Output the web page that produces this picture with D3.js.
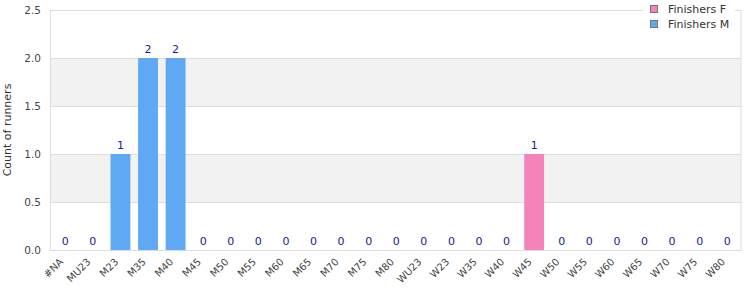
<!DOCTYPE html>
<html><head><meta charset="utf-8">
<script src="https://cdn.jsdelivr.net/npm/d3@7"></script>
<style>body{margin:0;background:#fff}svg{font-family:"DejaVu Sans",sans-serif}</style>
</head><body><svg id="c" width="750" height="300"></svg>
<script>
const categories = ["#NA","MU23","M23","M35","M40","M45","M50","M55","M60","M65","M70","M75","M80","WU23","W23","W35","W40","W45","W50","W55","W60","W65","W70","W75","W80"];
const finishersF = [0,0,0,0,0,0,0,0,0,0,0,0,0,0,0,0,0,1,0,0,0,0,0,0,0];
const finishersM = [0,0,1,2,2,0,0,0,0,0,0,0,0,0,0,0,0,0,0,0,0,0,0,0,0];
const yTicks = [0,0.5,1.0,1.5,2.0,2.5];
const seriesNames = ["Finishers F","Finishers M"];
const colors = ["#f383b9","#5fa8f3"];

const svg = d3.select("#c");
const m = {l:50.5, r:741, t:10, b:250};
const x = d3.scaleBand().domain(categories).range([m.l+1, m.r]).paddingInner(0.28).paddingOuter(0.14);
const y = d3.scaleLinear().domain([0,2.5]).range([m.b, m.t]);

// alternating bands
for (let i=0;i<yTicks.length-1;i++){
  if (i%2===1) svg.append("rect").attr("x",m.l).attr("y",y(yTicks[i+1])).attr("width",m.r-m.l).attr("height",y(yTicks[i])-y(yTicks[i+1])).attr("fill","#f2f2f2");
}
// gridlines
svg.append("g").selectAll("line").data(yTicks).join("line")
  .attr("x1",m.l).attr("x2",m.r).attr("y1",d=>Math.round(y(d))+0.5).attr("y2",d=>Math.round(y(d))+0.5)
  .attr("stroke","#dddddd");
// border
svg.append("rect").attr("x",m.l).attr("y",m.t+0.5).attr("width",m.r-m.l).attr("height",m.b-m.t).attr("fill","none").attr("stroke","#dddddd");

// y axis labels
svg.append("g").selectAll("text").data(yTicks).join("text")
  .attr("x",41).attr("y",d=>y(d)).attr("dy","0.35em").attr("text-anchor","end")
  .attr("font-size",10.5).attr("fill","#444").text(d=>d.toFixed(1));
svg.append("text").attr("transform",`translate(7,${(m.t+m.b)/2}) rotate(-90)`).attr("text-anchor","middle")
  .attr("dy","0.35em").attr("font-size",11).attr("fill","#333").text("Count of runners");

// stacked bars
const rows = categories.map((c,i)=>({cat:c,"Finishers F":finishersF[i],"Finishers M":finishersM[i]}));
const stack = d3.stack().keys(seriesNames)(rows);
svg.append("g").selectAll("g").data(stack).join("g").attr("fill",(d,i)=>colors[i])
  .selectAll("rect").data(d=>d).join("rect")
  .attr("x",d=>x(d.data.cat)).attr("width",x.bandwidth())
  .attr("y",d=>y(d[1])).attr("height",d=>y(d[0])-y(d[1]));

// value labels
svg.append("g").selectAll("text").data(rows).join("text")
  .attr("x",d=>x(d.cat)+x.bandwidth()/2)
  .attr("y",d=>y(d["Finishers F"]+d["Finishers M"])-5)
  .attr("text-anchor","middle").attr("font-size",11).attr("fill","#1a1a8c")
  .text(d=>d["Finishers F"]+d["Finishers M"]);

// x labels
svg.append("g").selectAll("text").data(categories).join("text")
  .attr("transform",d=>`translate(${x(d)+x.bandwidth()/2-4},${m.b+10}) rotate(-45)`)
  .attr("text-anchor","end").attr("dy","0.35em").attr("font-size",10).attr("fill","#444").text(d=>d);

// legend
const lg = svg.append("g");
lg.append("rect").attr("x",643).attr("y",0).attr("width",92).attr("height",32).attr("fill","#fff");
seriesNames.forEach((s,i)=>{
  lg.append("rect").attr("x",650.5).attr("y",5.5+i*15).attr("width",7).attr("height",7).attr("fill",colors[i]).attr("stroke","#777");
  lg.append("text").attr("x",668).attr("y",9+i*15).attr("dy","0.35em").attr("font-size",11).attr("fill","#333").text(s);
});
</script></body></html>
